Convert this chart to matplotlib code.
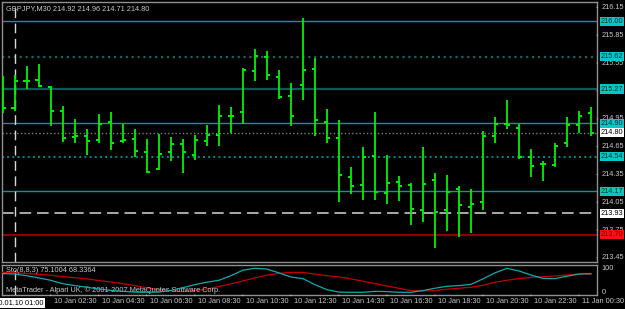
import numpy as np
import matplotlib
matplotlib.use("Agg")
import matplotlib.pyplot as plt

## GBPJPY M30 bars, 10 Jan 00:30 .. 11 Jan 01:00
opens = [215.32, 215.07, 215.36, 215.37, 215.29, 215.03, 214.75, 214.76, 214.72, 214.91,
	214.71, 214.73, 214.59, 214.41, 214.59, 214.68, 214.56, 214.71, 214.77, 214.98,
	215.02, 215.46, 215.62, 215.40, 215.19, 215.31, 215.49, 214.92, 214.74, 214.32,
	214.24, 214.55, 214.15, 214.27, 214.24, 213.97, 214.29, 213.97, 214.19, 214.00,
	214.05, 214.76, 214.89, 214.85, 214.54, 214.46, 214.45, 214.69, 214.88, 215.01]
highs = [215.41, 215.42, 215.52, 215.54, 215.30, 215.09, 214.95, 214.84, 215.00, 215.02,
	214.89, 214.84, 214.73, 214.79, 214.75, 214.73, 214.77, 214.88, 215.10, 215.08,
	215.50, 215.70, 215.68, 215.47, 215.33, 216.04, 215.60, 215.06, 214.94, 214.43,
	214.64, 215.02, 214.56, 214.33, 214.26, 214.64, 214.36, 214.34, 214.23, 214.19,
	214.82, 214.97, 215.15, 214.89, 214.62, 214.49, 214.69, 214.97, 215.03, 215.08]
lows = [215.01, 215.03, 215.27, 215.29, 214.87, 214.70, 214.69, 214.56, 214.69, 214.61,
	214.69, 214.54, 214.37, 214.40, 214.49, 214.36, 214.50, 214.66, 214.66, 214.80,
	214.89, 215.36, 215.37, 215.16, 214.87, 215.15, 214.76, 214.69, 214.05, 214.14,
	214.07, 214.07, 214.03, 214.06, 213.81, 213.84, 213.56, 213.74, 213.68, 213.72,
	213.97, 214.69, 214.84, 214.52, 214.32, 214.28, 214.43, 214.65, 214.80, 214.76]
closes = [215.07, 215.36, 215.36, 215.30, 215.03, 214.74, 214.76, 214.71, 214.89, 214.69,
	214.72, 214.60, 214.38, 214.57, 214.68, 214.59, 214.72, 214.78, 214.98, 214.98,
	215.47, 215.63, 215.42, 215.18, 214.98, 215.48, 214.94, 214.74, 214.34, 214.23,
	214.54, 214.16, 214.26, 214.23, 213.98, 214.25, 213.95, 214.16, 214.02, 214.03,
	214.76, 214.89, 214.88, 214.54, 214.44, 214.46, 214.66, 214.88, 214.98, 214.80]

## stochastic (8,8,3): main and signal
sto_main = [78, 76, 69, 60, 50, 36, 28, 21, 14, 8,
	4, 1, 0, 1, 8, 19, 32, 42, 50, 69,
	92, 100, 97, 81, 64, 57, 32, 11, 1, 0,
	0, 4, 3, 0, 0, 7, 17, 25, 28, 33,
	56, 81, 100, 89, 72, 58, 57, 67, 76, 78]
sto_signal = [83, 82, 78, 75, 71, 65, 61, 56, 49, 43,
	36, 28, 19, 11, 6, 3, 7, 14, 24, 35,
	47, 60, 71, 79, 83, 83, 76, 69, 64, 56,
	46, 36, 26, 17, 7, 6, 7, 13, 17, 21,
	29, 42, 50, 57, 62, 65, 68, 72, 76, 76]

## horizontal levels: (price, color, linestyle, linewidth, label bg, label fg)
levels = [
	(216.00, "#009a9a", "-", 1.0, "#00c8c8", "#003030"),
	(215.62, "#1f6060", ":", 1.6, "#00c8c8", "#003030"),
	(215.27, "#0a5a5a", "-", 1.6, "#00c8c8", "#003030"),
	(214.90, "#009a9a", "-", 1.0, "#00c8c8", "#003030"),
	(214.80, "#808080", ":", 1.0, "#ffffff", "#000000"),
	(214.54, "#008888", ":", 1.4, "#00c8c8", "#003030"),
	(214.17, "#009a9a", "-", 1.0, "#00c8c8", "#003030"),
	(213.93, "#a8a8a8", (0, (6, 3)), 1.4, "#ffffff", "#000000"),
	(213.70, "#8b0000", "-", 1.6, "#ff1010", "#600000"),
]
price_ticks = [216.15, 215.85, 215.55, 215.25, 214.95, 214.65, 214.35, 214.05, 213.75, 213.45]
time_labels = ["10 Jan 02:30", "10 Jan 04:30", "10 Jan 06:30", "10 Jan 08:30", "10 Jan 10:30",
	"10 Jan 12:30", "10 Jan 14:30", "10 Jan 16:30", "10 Jan 18:30", "10 Jan 20:30",
	"10 Jan 22:30", "11 Jan 00:30"]
time_label_bars = [4, 8, 12, 16, 20, 24, 28, 32, 36, 40, 44, 48]

W, H = 625, 309
BG = "#000000"
TXT = "#c8c8c8"
FS = 5.3
plt.rcParams["font.family"] = ["Liberation Sans", "DejaVu Sans"]

fig = plt.figure(figsize=(W / 100, H / 100), dpi=100, facecolor=BG)

def px_axes(x0, y0, x1, y1):
	return fig.add_axes([x0 / W, 1 - y1 / H, (x1 - x0) / W, (y1 - y0) / H])

ax = px_axes(2, 2, 597, 262)
sub = px_axes(2, 265, 597, 295)

n = len(opens)
x = np.arange(n)
xlim = (-0.06, 49.5)

for a in (ax, sub):
	a.set_facecolor(BG)
	a.set_xlim(xlim)
	for s in a.spines.values():
		s.set_color("#909090")
		s.set_linewidth(1.0)
	a.set_xticks([])
	a.set_yticks([])

## main price panel
ax.set_ylim(213.406, 216.208)
for p in price_ticks:
	ax.annotate("%.2f" % p, xy=(1.0, p), xycoords=("axes fraction", "data"),
		xytext=(3, 0), textcoords="offset points", ha="left", va="center",
		fontsize=FS, color=TXT, annotation_clip=False, zorder=3)
	ax.annotate("", xy=(1.0, p), xycoords=("axes fraction", "data"),
		xytext=(2.2, 0), textcoords="offset points",
		arrowprops=dict(arrowstyle="-", color="#c0c0c0", lw=0.8), annotation_clip=False)

for price, col, ls, lw, bg, fg in levels:
	ax.axhline(price, color=col, linestyle=ls, linewidth=lw, zorder=1)
	ax.annotate("%.2f" % price, xy=(1.0, price), xycoords=("axes fraction", "data"),
		xytext=(2.6, 0), textcoords="offset points", ha="left", va="center",
		fontsize=FS, color=fg, annotation_clip=False, zorder=5,
		bbox=dict(boxstyle="square,pad=0.15", facecolor=bg, edgecolor="none"))

ax.vlines(x, lows, highs, color="#00f000", linewidth=1.3, zorder=4)
ax.hlines(opens, x - 0.27, x, color="#00f000", linewidth=1.4, zorder=4)
ax.hlines(closes, x, x + 0.27, color="#00f000", linewidth=1.4, zorder=4)

ax.axvline(1, color="#d8d8d8", linestyle=(0, (7, 4)), linewidth=1.0, zorder=2)
ax.text(0.006, 0.988, "GBPJPY,M30 214.92 214.96 214.71 214.80", transform=ax.transAxes,
	ha="left", va="top", fontsize=FS, color=TXT)

## stochastic panel
sub.set_ylim(-11.25, 113.75)
sub.plot(x, sto_signal, color="#c00000", linewidth=0.9, zorder=3)
sub.plot(x, sto_main, color="#1aa8a8", linewidth=0.9, zorder=4)
sub.axvline(1, color="#d8d8d8", linestyle=(0, (7, 4)), linewidth=1.0, zorder=2)
sub.text(0.006, 0.93, "Sto(8,8,3) 75.1004 68.3364", transform=sub.transAxes,
	ha="left", va="top", fontsize=FS, color=TXT)
sub.text(0.006, 0.05, "MetaTrader - Alpari UK, \u00a9 2001-2007 MetaQuotes Software Corp.",
	transform=sub.transAxes, ha="left", va="bottom", fontsize=FS, color=TXT)
for v in (100, 0):
	sub.annotate(str(v), xy=(1.0, v), xycoords=("axes fraction", "data"),
		xytext=(3.5, 0), textcoords="offset points", ha="left", va="center",
		fontsize=FS, color=TXT, annotation_clip=False)

## time axis
for b, lab in zip(time_label_bars, time_labels):
	sub.annotate("", xy=(b, 0.0), xycoords=("data", "axes fraction"),
		xytext=(0, -2.5), textcoords="offset points",
		arrowprops=dict(arrowstyle="-", color="#c0c0c0", lw=0.8), annotation_clip=False)
	sub.annotate(lab, xy=(b, 0.0), xycoords=("data", "axes fraction"),
		xytext=(2.2, -2.2), textcoords="offset points", ha="left", va="top",
		fontsize=FS, color=TXT, annotation_clip=False)
sub.annotate("2010.01.10 01:00", xy=(1, 0.0), xycoords=("data", "axes fraction"),
	xytext=(0, -5.8), textcoords="offset points", ha="center", va="center",
	fontsize=FS, color="#000000", annotation_clip=False,
	bbox=dict(boxstyle="square,pad=0.2", facecolor="#ffffff", edgecolor="none"))

fig.savefig("out.png", dpi=100, facecolor=BG)
